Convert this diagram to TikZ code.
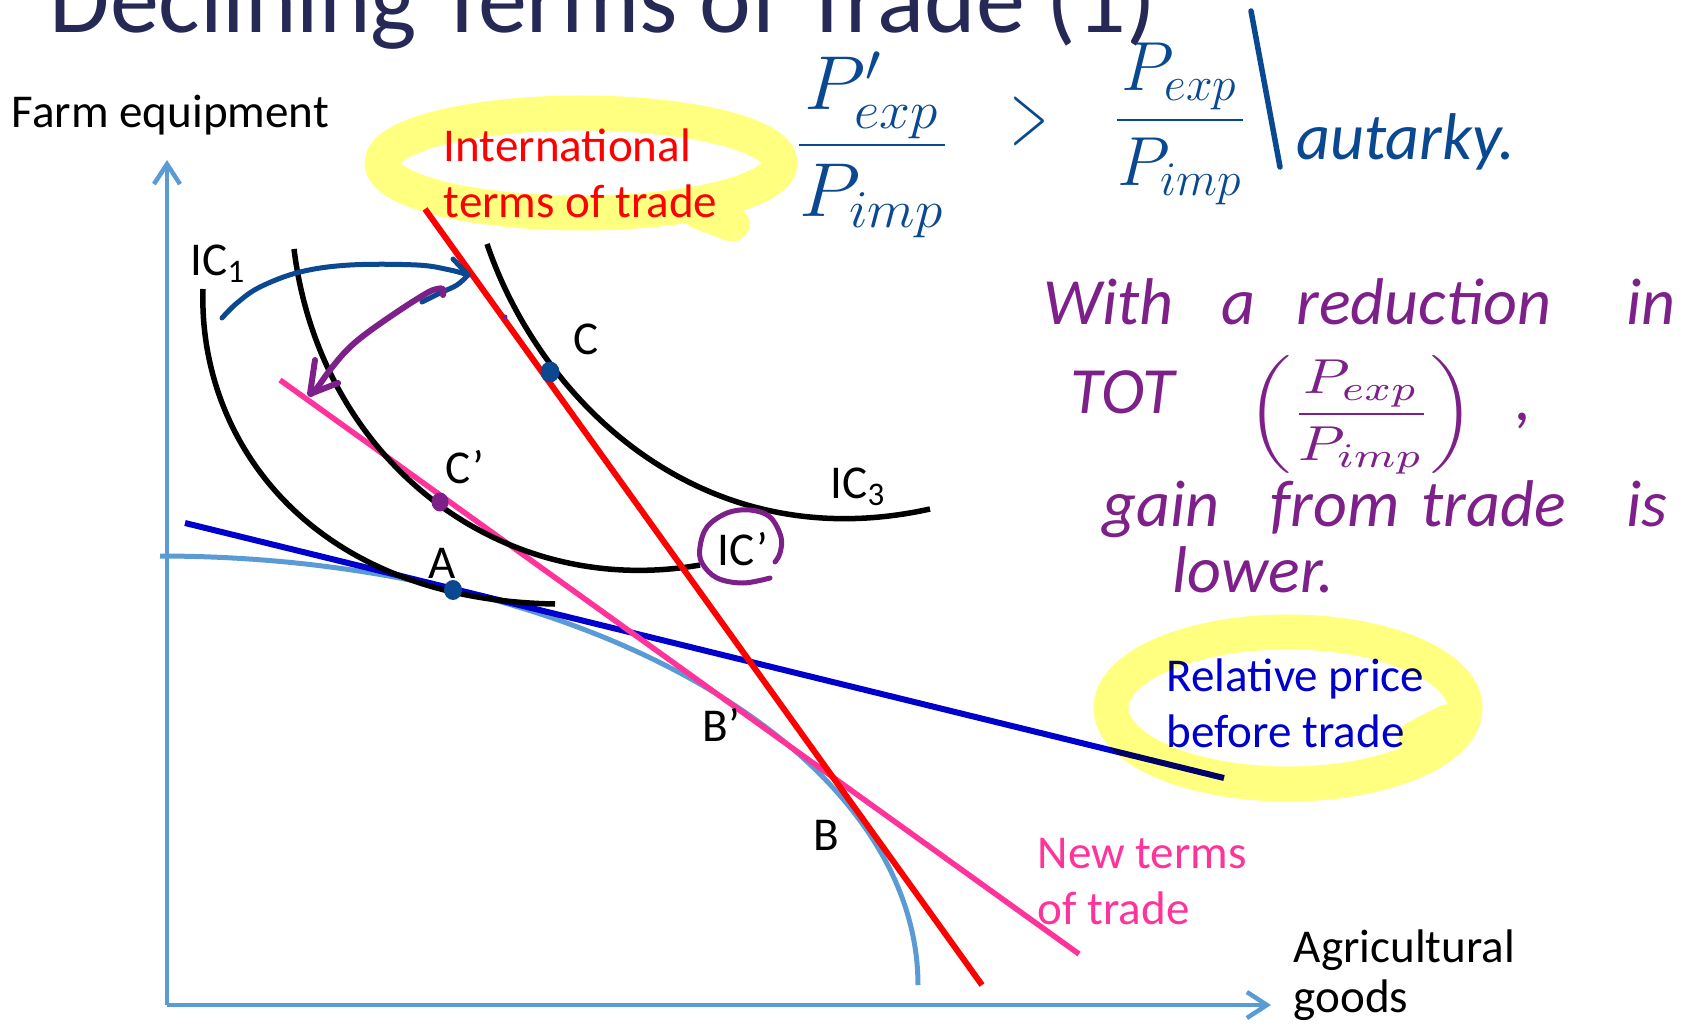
\documentclass[tikz,border=0pt]{standalone}
\usepackage{fontspec}
\setmainfont{Carlito}
\newfontfamily\hand{Carlito}
\usetikzlibrary{arrows.meta}
\definecolor{axisblue}{RGB}{91,155,213}
\definecolor{relblue}{RGB}{0,0,204}
\definecolor{pinkc}{RGB}{255,51,153}
\definecolor{redc}{RGB}{255,0,0}
\definecolor{penblue}{RGB}{10,72,145}
\definecolor{penpurple}{RGB}{125,32,138}
\definecolor{hlyellow}{RGB}{255,255,128}
\definecolor{titlecol}{RGB}{38,40,86}
\tikzset{
  lbl/.style={inner sep=0pt, anchor=base west, font=\fontsize{13.4}{16}\selectfont},
  hwp/.style={inner sep=0pt, anchor=base west, text=penpurple, font=\hand\itshape\fontsize{18.8}{22}\selectfont},
  hwb/.style={inner sep=0pt, text=penblue, font=\hand\itshape\fontsize{18.8}{22}\selectfont},
  axisline/.style={draw=axisblue, line width=0.45mm},
  curveline/.style={line width=0.55mm},
  penb/.style={draw=penblue, line width=0.5mm, line cap=round, line join=round},
  penp/.style={draw=penpurple, line width=0.6mm, line cap=round, line join=round},
  hl/.style={draw=hlyellow, line width=3.5mm, line cap=round, line join=round, blend mode=multiply},
}
\begin{document}
\begin{tikzpicture}[x=0.1mm,y=-0.1mm]
\useasboundingbox (0,0) rectangle (1694,1030);
\clip (0,0) rectangle (1694,1030);

% title (cut off at top)
\node[inner sep=0pt, anchor=base west, text=titlecol, font=\fontsize{27.9}{33}\selectfont] (title) at (49,33) {Declining Terms of Trade (1)};

% axes
\coordinate (O) at (167,1005);
\coordinate (ytip) at (167,160);
\coordinate (xtip) at (1271,1005);
\draw[axisline, -{Straight Barb[length=2mm, width=2.6mm]}] (O) -- (ytip);
\draw[axisline, -{Straight Barb[length=2mm, width=2.6mm]}] (O) -- (xtip);

% production possibility frontier
\draw[draw=axisblue, line width=0.5mm] plot[domain=90:0, samples=90, variable=\t] ({160+758*cos(\t)}, {985-429*sin(\t)});

% price lines
\coordinate (bl1) at (185,523);  \coordinate (bl2) at (1224,778);
\coordinate (pk1) at (280,380);  \coordinate (pk2) at (1079,954);
\coordinate (rd1) at (425,209);  \coordinate (rd2) at (982,985);
\draw[relblue, curveline, line width=0.6mm] (bl1) -- (bl2);
\draw[pinkc, curveline] (pk1) -- (pk2);

% indifference curves
\draw[black, curveline] (203,289) .. controls (198,440) and (310,600) .. (555,604);
\draw[black, curveline] (294,249) .. controls (320,460) and (500,600) .. (700,565);
\draw[black, curveline] (487,244) .. controls (540,400) and (700,560) .. (930,509);

\draw[redc, curveline, line width=0.6mm] (rd1) -- (rd2);

% points
\coordinate (A) at (453,590);
\coordinate (C) at (550,372);
\coordinate (Cp) at (440,502);
\fill[penblue] (A) ellipse [x radius=9, y radius=10];
\fill[penblue] (C) ellipse [x radius=9.5, y radius=10.5];
\fill[penpurple] (Cp) ellipse [x radius=8.5, y radius=9.5];
\fill[penpurple] (505,317) circle [radius=2.5];

% labels
\node[lbl] (yl) at (11,128) {Farm equipment};
\node[lbl] (xl1) at (1293,962) {Agricultural};
\node[lbl] (xl2) at (1293,1012) {goods};
\node[lbl, text=redc] (it1) at (443,162) {International};
\node[lbl, text=redc] (it2) at (443,218) {terms of trade};
\node[lbl, text=relblue] (rp1) at (1166,691) {Relative price};
\node[lbl, text=relblue] (rp2) at (1166,747) {before trade};
\node[lbl, text=pinkc] (nt1) at (1037,868) {New terms};
\node[lbl, text=pinkc] (nt2) at (1037,924) {of trade};
\node[lbl] (ic1) at (190,275) {IC\textsubscript{1}};
\node[lbl] (ic3) at (830,498) {IC\textsubscript{3}};
\node[lbl] (icp) at (717,565) {IC’};
\node[lbl] (lC) at (573,355) {C};
\node[lbl] (lCp) at (445,483) {C’};
\node[lbl] (lA) at (428,578) {A};
\node[lbl] (lBp) at (702,741) {B’};
\node[lbl] (lB) at (813,850) {B};

% hand-drawn arrows
\draw[penb] plot[smooth, tension=0.6] coordinates {(222,318) (237,303) (260,287) (300,272) (350,265) (417,265) (450,270) (468,275)};
\draw[penb] (453,259) -- (468,275);
\draw[penb] plot[smooth, tension=0.6] coordinates {(468,275) (457,285) (440,293) (422,302)};
\draw[penp] plot[smooth, tension=0.6] coordinates {(443,295) (443,289) (437,289) (427,293) (400,310) (367,333) (347,350) (330,370) (317,388) (311,394)};
\draw[penp] (315,360) -- (310,394) -- (338,383);

% hand-drawn loop around IC'
\draw[penp, line width=0.5mm] plot[smooth, tension=0.6] coordinates {(770,578) (743,583) (717,578) (702,563) (700,547) (707,527) (727,513) (750,510) (770,517) (781,537) (780,553) (775,562)};

% handwritten formula (blue)
\node[hwb] (f1) at (872,145) {\resizebox*{15.7mm}{18.6mm}{$\displaystyle\frac{P'_{exp}}{P_{imp}}$}};
\node[hwb] (gt) at (1029,121) {\resizebox*{3.8mm}{4.9mm}{$>$}};
\node[hwb] (f2) at (1180,124) {\resizebox*{13.5mm}{16.2mm}{$\displaystyle\frac{P_{exp}}{P_{imp}}$}};
\draw[penb, line width=0.55mm] (1251,11) -- (1280,167);
\node[hwb, anchor=base west] (aut) at (1296,160) {autarky.};

% handwritten note (purple)
\node[hwp] (w1) at (1043,324) {With};
\node[hwp] (w2) at (1221,324) {a};
\node[hwp] (w3) at (1296,324) {reduction};
\node[hwp] (w4) at (1626,324) {in};
\node[hwp] (w5) at (1070,413) {TOT};
\node[inner sep=0pt, text=penpurple] (w6) at (1361,415) {\resizebox*{22.7mm}{11.9mm}{$\left(\displaystyle\frac{P_{exp}}{P_{imp}}\right)$}};
\node[hwp] (w7) at (1515,420) {,};
\node[hwp] (w8) at (1102,526) {gain};
\node[hwp] (w9) at (1270,526) {from};
\node[hwp] (w10) at (1421,526) {trade};
\node[hwp] (w11) at (1626,526) {is};
\node[hwp] (w12) at (1172,592) {lower.};

% highlighter loops
\draw[hl] (581,163) ellipse [x radius=199, y radius=50] (700,212) -- (732,224);
\draw[hl] (1288,708) ellipse [x radius=177, y radius=76] (1447,722) -- (1416,738);
\end{tikzpicture}
\end{document}
